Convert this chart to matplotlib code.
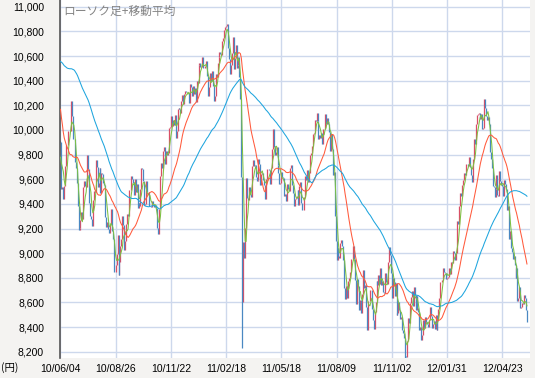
import numpy as np
import pandas as pd
import matplotlib
matplotlib.use('Agg')
import matplotlib.pyplot as plt

#Closes before the first day on the chart, only used to warm up the moving averages
history = [10013, 10034, 10306, 10335, 10123, 10400, 10352, 10198, 10101, 10126,
           10172, 10221, 10253, 10145, 10368, 10585, 10567, 10563, 10664, 10751, 10721,
           10721, 10846, 10744, 10824, 10774, 10815, 10828, 10996, 10986, 11097, 11089,
           11244, 11286, 11339, 11282, 11292, 11168, 11204, 11251, 11161, 11204, 11273,
           11102, 10909, 11000, 11091, 10949, 10914, 11165, 11212, 10925, 11057,
           10695, 10364, 10530, 10411, 10394, 10620, 10462, 10235, 10186, 10242, 10030,
           9784, 9758, 9459, 9522, 9639, 9768, 9768, 9711, 9603, 9914]

#Daily closes shown on the chart (2010/06/04 - 2012/06/01)
closes_2010 = [9901, 9520, 9537, 9439, 9542, 9705, 9879, 9878, 9990, 9995, 9994, 10238, 10112,
               9923, 9928, 9737, 9693, 9570, 9382,
               9191, 9203, 9266, 9338, 9279, 9535, 9585, 9548, 9537, 9795, 9685, 9408, 9300,
               9278, 9220, 9430, 9503, 9496, 9753, 9696, 9537,
               9570, 9694, 9489, 9653, 9642, 9572, 9551, 9292, 9212, 9253, 9196, 9161, 9240,
               9362, 9179, 9116, 8845, 8845, 8906, 8991, 9149, 8824,
               8927, 9062, 9114, 9301, 9226, 9024, 9098, 9239, 9321, 9299, 9516, 9509, 9626,
               9602, 9566, 9471, 9603, 9495, 9559, 9369,
               9404, 9381, 9518, 9691, 9684, 9588, 9388, 9403, 9583, 9500, 9498, 9381, 9381,
               9376, 9426, 9401, 9377, 9387, 9366, 9202,
               9154, 9159, 9358, 9625, 9732, 9694, 9830, 9861, 9724, 9827, 9797, 9811, 10013,
               10022, 10115, 10030, 10079, 10039, 10125, 9937,
               9988, 10168, 10178, 10167, 10141, 10232, 10285, 10211, 10293, 10316, 10309,
               10311, 10303, 10216, 10370, 10346, 10279, 10355, 10292, 10344, 10228]
closes_2011 = [10398, 10380, 10529, 10541, 10510, 10512, 10589, 10499, 10502, 10518, 10557,
               10437, 10274, 10345, 10464, 10401, 10478, 10360, 10237,
               10274, 10457, 10431, 10543, 10592, 10635, 10617, 10605, 10725, 10746, 10808,
               10836, 10842, 10857, 10664, 10579, 10452, 10526, 10624,
               10754, 10492, 10586, 10693, 10505, 10525, 10589, 10434, 10254, 9620, 8605,
               9093, 8962, 9206, 9608, 9449, 9435, 9536, 9478, 9459, 9708, 9755,
               9708, 9718, 9615, 9584, 9590, 9768, 9720, 9555, 9641, 9653, 9591, 9556, 9441,
               9606, 9685, 9682, 9671, 9558, 9691, 9849,
               10004, 9859, 9794, 9818, 9864, 9716, 9648, 9558, 9567, 9662, 9620, 9607, 9460,
               9477, 9422, 9562, 9521, 9504, 9693,
               9719, 9555, 9492, 9380, 9442, 9449, 9467, 9514, 9391, 9547, 9574, 9411, 9351,
               9354, 9459, 9629, 9596, 9678, 9578, 9648, 9797, 9816,
               9868, 9965, 9972, 10082, 10071, 10137, 10069, 9925, 9963, 9936, 9974, 9889,
               10005, 10010, 10132, 10050, 10097, 10047, 9987, 9833,
               9965, 9844, 9637, 9659, 9299, 9097, 8944, 9038, 8981, 8963, 9086, 9107, 9057,
               8943, 8719, 8628, 8733, 8639, 8772, 8797, 8851, 8953, 8955,
               9060, 8950, 8784, 8590, 8763, 8793, 8737, 8535, 8616, 8518, 8668, 8864, 8721,
               8741, 8560, 8374, 8609, 8615, 8701, 8700,
               8545, 8456, 8382, 8522, 8605, 8773, 8738, 8823, 8747, 8879, 8741, 8772, 8682,
               8678, 8843, 8762, 8748, 8926, 9050, 8988,
               8835, 8640, 8801, 8767, 8655, 8755, 8500, 8514, 8603, 8541, 8463, 8479, 8374,
               8348, 8314, 8165, 8160, 8287, 8477, 8434,
               8597, 8643, 8695, 8575, 8722, 8664, 8536, 8653, 8553, 8519, 8377, 8401, 8296,
               8336, 8459, 8395, 8479, 8440, 8423, 8398, 8455]
closes_2012 = [8560, 8488, 8390, 8422, 8448, 8385, 8500, 8378, 8466, 8550, 8639, 8766, 8765,
               8785, 8883, 8849, 8841, 8793, 8802,
               8809, 8876, 8831, 8929, 8917, 9015, 9002, 8947, 8999, 9052, 9260, 9238, 9384,
               9485, 9463, 9554, 9595, 9647, 9633, 9722, 9723,
               9707, 9777, 9698, 9637, 9576, 9768, 9929, 9889, 9899, 10050, 10123, 10129,
               10141, 10086, 10127, 10011, 10018, 10255, 10182, 10115, 10083,
               10109, 10050, 9819, 9767, 9688, 9546, 9538, 9458, 9524, 9637, 9470, 9464, 9667,
               9588, 9561, 9542, 9468, 9590, 9561, 9520,
               9350, 9380, 9119, 9181, 9045, 9009, 8953, 8973, 8900, 8801, 8876, 8611, 8633,
               8729, 8556, 8563, 8593, 8590, 8657, 8633, 8542,
               8440]

#Intraday lows that reach well past the close-to-close range (day index -> low)
wick_lows = {191: 8227, 362: 8135}

tick_labels = ['10/06/04', '10/08/26', '10/11/22', '11/02/18', '11/05/18',
               '11/08/09', '11/11/02', '12/01/31', '12/04/23']
tick_step = 58
ma_windows = [5, 25, 75]
ma_colors = ['#7dc142', '#ff5a3c', '#1ea5de']

UP_COLOR = '#d94f66'
DOWN_COLOR = '#4a88c2'
JP_FONT = ['Noto Sans CJK JP', 'DejaVu Sans']


def plot_chart():
    closes = np.array(closes_2010 + closes_2011 + closes_2012, dtype=float)
    opens = np.concatenate([[history[-1]], closes[:-1]])
    idx = np.arange(len(closes))

    lows = np.minimum(opens, closes)
    highs = np.maximum(opens, closes)
    for i, low in wick_lows.items():
        lows[i] = min(lows[i], low)

    fig = plt.figure(figsize=(5.35, 3.78), dpi=100, facecolor='#f4f3f1')
    ax = fig.add_axes([60 / 535, 20 / 378, 470 / 535, 358 / 378])
    ax.set_facecolor('white')

    up = closes >= opens
    ax.vlines(idx[up], lows[up], highs[up], color=UP_COLOR, lw=0.9, zorder=2)
    ax.vlines(idx[~up], lows[~up], highs[~up], color=DOWN_COLOR, lw=0.9, zorder=2)

    #Moving averages over the full series
    full = pd.Series(list(history) + list(closes))
    for w, c in zip(ma_windows, ma_colors):
        ma = full.rolling(w).mean().iloc[len(history):].to_numpy()
        ax.plot(idx, ma, color=c, lw=0.75, zorder=3)

    ax.set_xlim(-0.5, 493.2)
    ax.set_ylim(8149, 11055)

    yticks = list(range(8200, 11001, 200))
    ax.set_yticks(yticks)
    ax.set_yticklabels(['{:,}'.format(v) for v in yticks])
    ax.set_xticks([k * tick_step for k in range(len(tick_labels))])
    ax.set_xticklabels(tick_labels)

    ax.grid(True, color='#cdd8ec', lw=1.0, zorder=0)
    ax.set_axisbelow(True)
    ax.tick_params(length=0, labelsize=7.5, colors='black')
    ax.tick_params(axis='y', pad=11.5)
    ax.tick_params(axis='x', pad=4)
    for lab in ax.get_xticklabels() + ax.get_yticklabels():
        lab.set_family('Liberation Sans')

    for side in ['top', 'right', 'bottom']:
        ax.spines[side].set_visible(False)
    ax.spines['left'].set_color('#555555')
    ax.spines['left'].set_linewidth(1.2)

    fig.text(63 / 535, 1 - 11 / 378, 'ローソク足+移動平均', family=JP_FONT,
             fontsize=8.5, color='#858585', va='center', ha='left')
    fig.text(1 / 535, 1 - 368 / 378, '(円)', family=JP_FONT,
             fontsize=7.5, color='black', va='center', ha='left')

    fig.savefig('out.png', dpi=100, facecolor=fig.get_facecolor())


if __name__ == '__main__':
    plot_chart()
